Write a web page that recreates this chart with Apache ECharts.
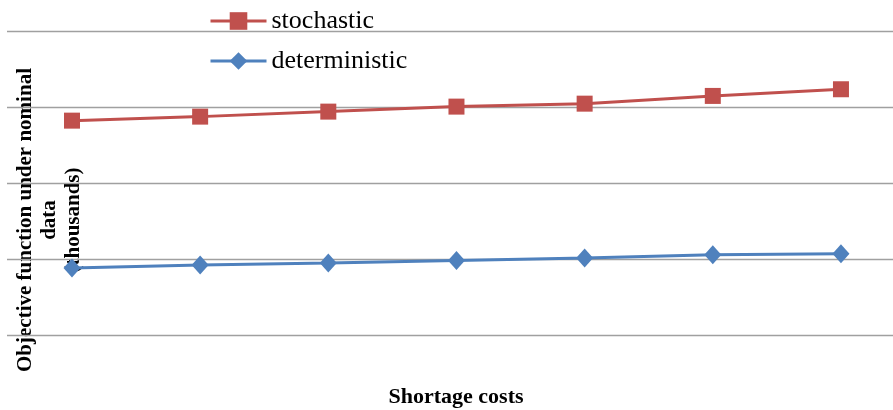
<!DOCTYPE html>
<html><head><meta charset="utf-8">
<script src="https://cdn.jsdelivr.net/npm/echarts@6/dist/echarts.min.js"></script>
<style>html,body{margin:0;padding:0;background:#fff}#c{width:893px;height:410px}</style>
</head><body><div id="c"></div>
<script>
const categories = ["1", "2", "3", "4", "5", "6", "7"];
const stochastic = [282.7, 288.0, 294.6, 301.2, 305.1, 315.3, 324.1];
const deterministic = [88.4, 92.3, 94.9, 98.3, 101.5, 105.8, 107.1];
const yTicks = { min: 0, max: 400, interval: 100 };

const pairs = arr => arr.map((v, i) => [Number(categories[i]), v]);

const chart = echarts.init(document.getElementById('c'));
chart.setOption({
  animation: false,
  grid: { left: 7, right: 0, top: 31.7, bottom: 75 },
  legend: {
    orient: 'vertical', left: 204, top: 3, itemGap: 14,
    itemWidth: 56, itemHeight: 22,
    lineStyle: { width: 3 },
    textStyle: { fontFamily: 'Liberation Serif', fontSize: 26, color: '#000' },
    data: ['stochastic', 'deterministic']
  },
  xAxis: {
    type: 'value', min: 0.493, max: 7.406,
    splitLine: { show: false },
    axisLine: { show: false }, axisTick: { show: false }, axisLabel: { show: false }
  },
  yAxis: {
    type: 'value', min: yTicks.min, max: yTicks.max, interval: yTicks.interval,
    axisLine: { show: false }, axisTick: { show: false }, axisLabel: { show: false },
    splitLine: { lineStyle: { color: '#a0a0a0', width: 1.4 } }
  },
  graphic: [
    { type: 'text', x: 50, y: 220, rotation: Math.PI / 2,
      style: { text: 'Objective function under nominal\ndata\n(thousands)', textAlign: 'center', textVerticalAlign: 'middle',
        fontFamily: 'Liberation Serif', fontWeight: 'bold', fontSize: 21, lineHeight: 24, fill: '#000' } },
    { type: 'text', x: 456, y: 397,
      style: { text: 'Shortage costs', textAlign: 'center', textVerticalAlign: 'middle',
        fontFamily: 'Liberation Serif', fontWeight: 'bold', fontSize: 22, fill: '#000' } }
  ],
  series: [
    { name: 'stochastic', type: 'line', data: pairs(stochastic), symbol: 'rect', symbolSize: 16,
      lineStyle: { color: '#C0504D', width: 3 }, itemStyle: { color: '#C0504D' } },
    { name: 'deterministic', type: 'line', data: pairs(deterministic), symbol: 'diamond', symbolSize: [17, 19],
      lineStyle: { color: '#4F81BD', width: 3 }, itemStyle: { color: '#4F81BD' } }
  ]
});
</script></body></html>
